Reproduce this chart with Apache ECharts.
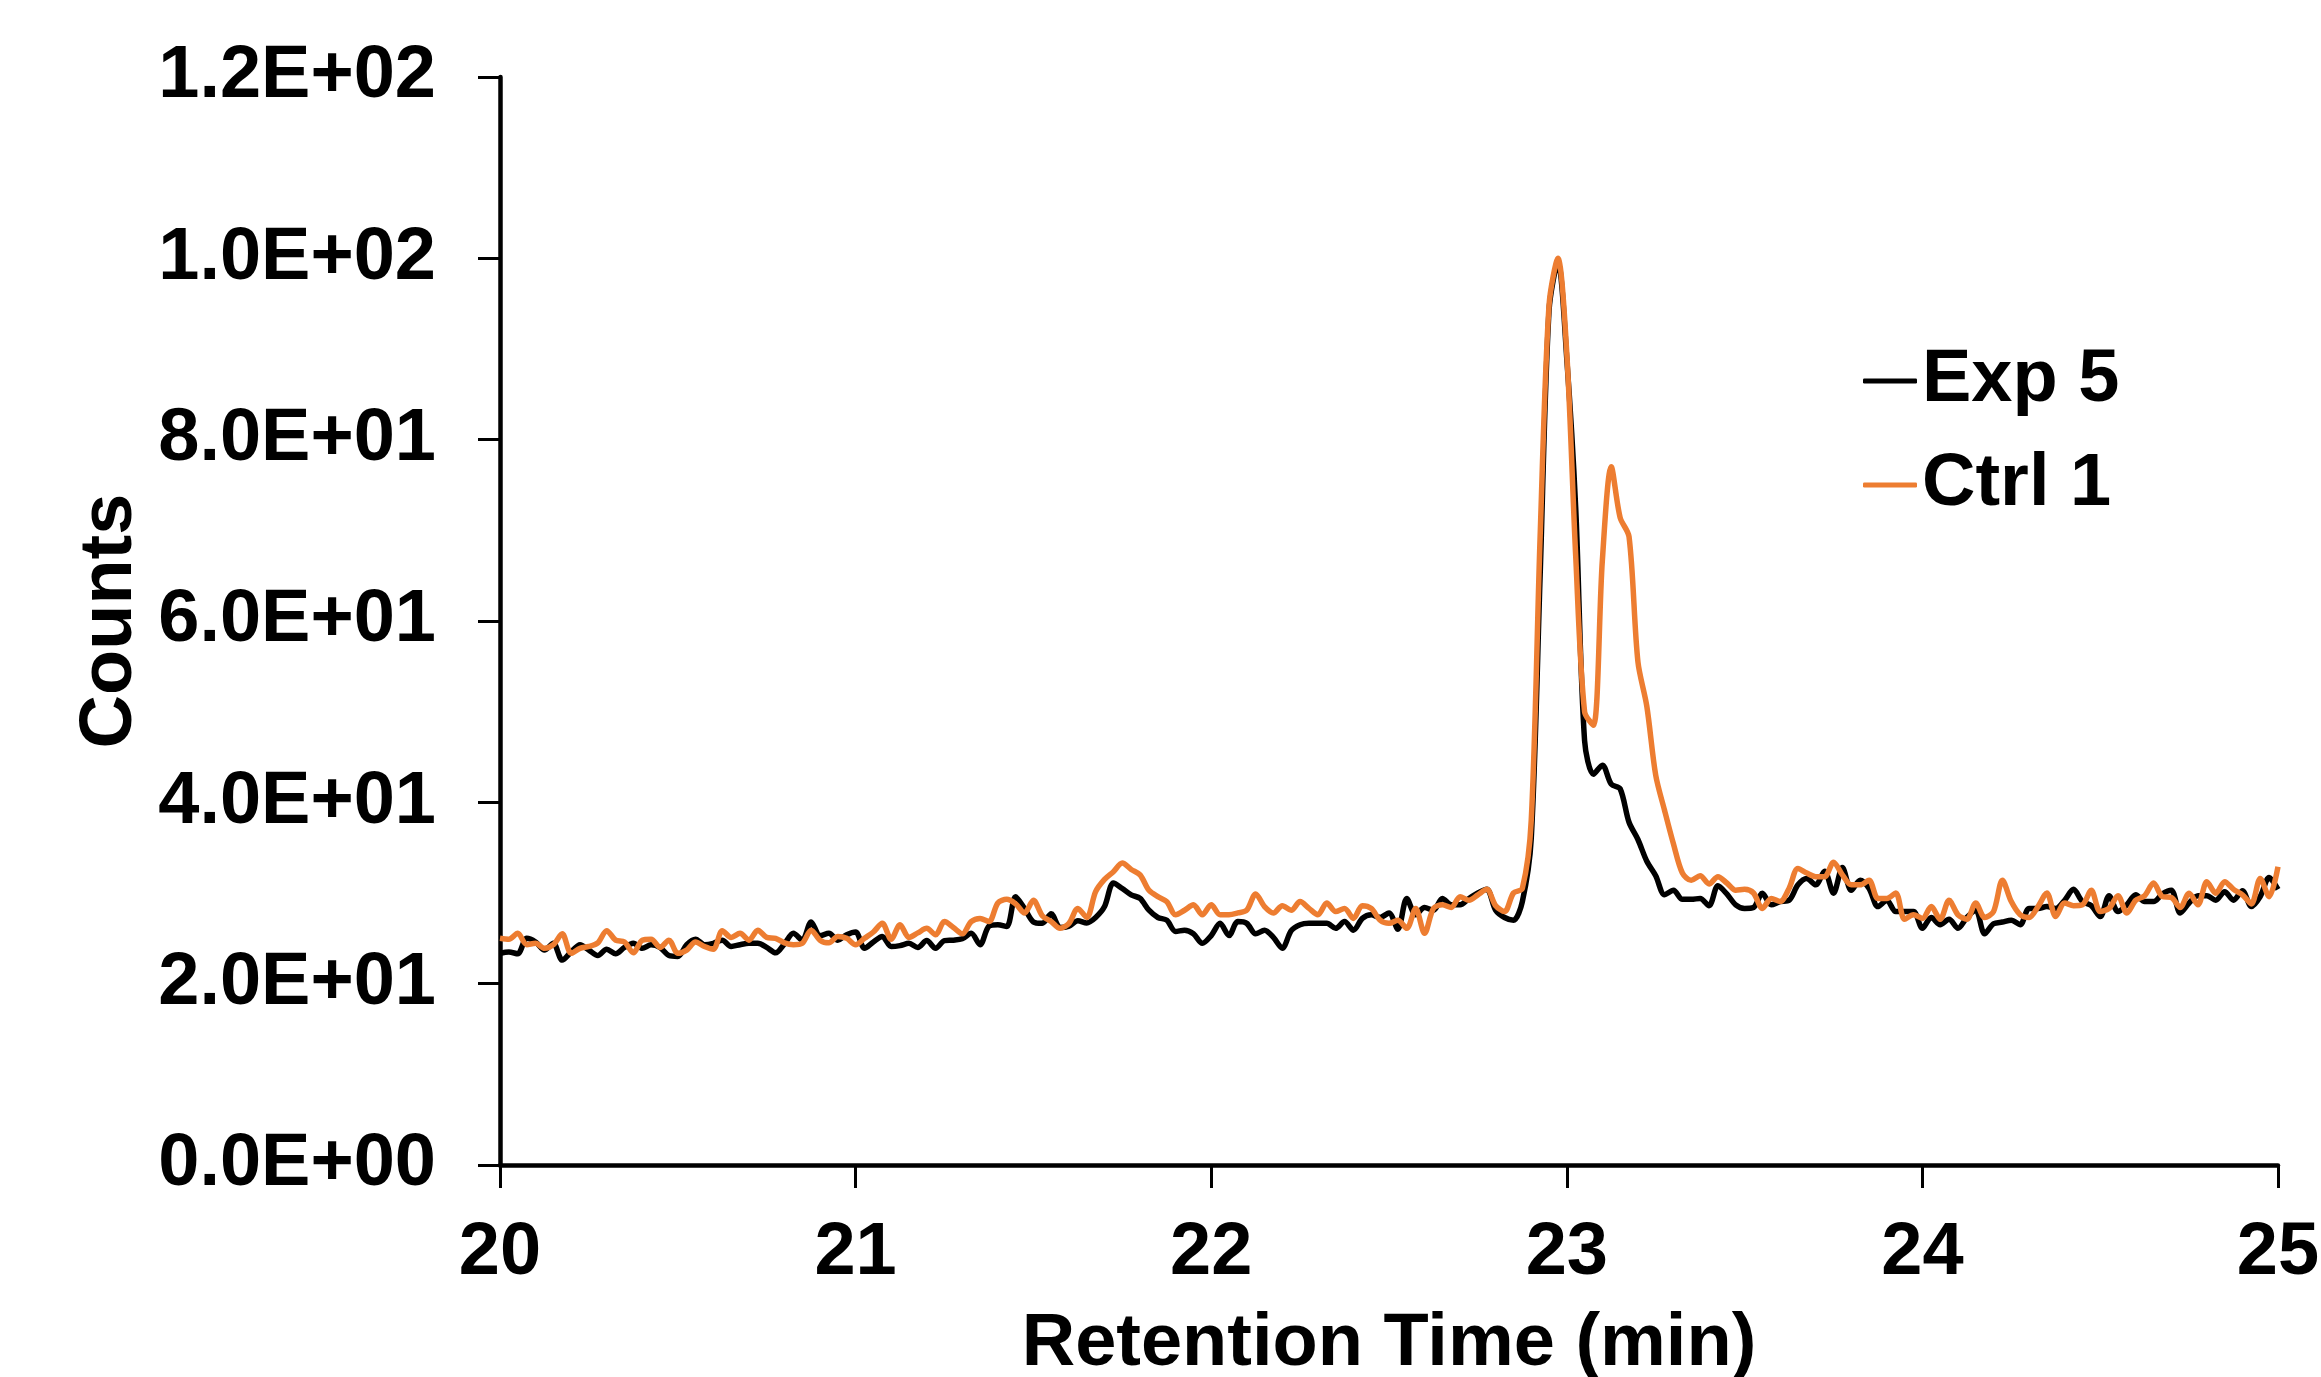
<!DOCTYPE html>
<html>
<head>
<meta charset="utf-8">
<script src="https://cdn.jsdelivr.net/npm/echarts@6/dist/echarts.min.js"></script>
<style>
html,body{margin:0;padding:0;background:#fff;}
#chart{width:2321px;height:1377px;}
</style>
</head>
<body>
<div id="chart"></div>
<script>
// Sampling grid: retention time from 20.000 to 25.000 min, every 0.025 min (201 points)
const tStart = 20, tStep = 0.025, nPts = 201;

const seriesNames = ['Exp 5', 'Ctrl 1'];

const exp5 = [
  23.35,23.5,23.3,25.0,24.6,23.7,24.45,22.6,23.5,24.3,23.7,23.1,23.8,23.3,24.0,24.45,23.9,24.3,24.0,23.1,23.0,24.3,24.9,24.3,24.45,24.8,24.1,24.3,24.45,24.45,24.0,23.4,24.4,25.55,
  24.8,26.8,25.3,25.55,24.8,25.4,25.7,23.9,24.6,25.2,24.1,24.2,24.45,24.0,24.75,23.9,24.75,24.8,24.95,25.55,24.3,26.35,26.5,26.3,29.6,28.3,26.8,26.65,27.7,26.2,26.35,26.95,26.7,27.3,
  28.5,31.1,30.5,29.8,29.4,28.1,27.3,27.0,25.75,25.9,25.5,24.45,25.3,26.65,25.3,26.85,26.65,25.5,25.9,25.1,23.9,25.85,26.5,26.65,26.65,26.65,26.1,26.85,25.9,27.2,27.6,27.3,27.8,
  26.0,29.4,27.6,28.4,28.1,29.4,28.7,28.7,29.4,30.0,30.4,28.1,27.3,27.0,29.05,
  36.0,65.0,94.2,99.6,88.9,72.5,46.8,43.1,44.1,42.0,41.5,37.8,35.9,33.5,31.9,29.8,30.3,29.3,29.3,
  29.4,28.6,30.8,29.9,28.7,28.3,28.4,29.97,28.7,29.05,29.2,30.9,31.6,30.9,32.4,29.97,32.8,30.3,31.4,30.5,28.5,29.2,27.95,27.95,27.95,26.1,27.3,26.5,27.1,26.1,27.3,28.1,25.5,26.6,
  26.8,27.0,26.5,28.3,28.3,28.5,28.3,29.2,30.4,29.05,28.6,27.4,29.7,27.95,28.7,29.8,29.05,29.05,29.9,30.3,27.8,28.9,29.7,29.7,29.2,30.15,29.2,30.26,28.5,29.6,31.7,30.4
];

const ctrl1 = [
  25.0,24.9,25.55,24.3,24.45,23.9,24.3,25.5,23.35,23.9,24.1,24.5,25.85,24.8,24.6,23.4,24.8,24.9,24.0,24.8,23.35,23.7,24.6,24.1,23.8,25.85,25.1,25.55,24.8,25.9,25.1,25.0,24.5,24.3,
  24.45,25.9,24.8,24.5,25.2,25.0,24.3,25.0,25.7,26.65,24.9,26.5,25.1,25.6,26.1,25.4,26.85,26.2,25.5,26.85,27.2,26.85,28.9,29.3,28.8,27.8,29.2,27.5,26.85,26.1,26.65,28.3,27.3,30.15,
  31.5,32.35,33.3,32.6,32.0,30.3,29.6,29.05,27.6,28.1,28.7,27.6,28.7,27.6,27.6,27.8,28.1,29.9,28.5,27.8,28.6,28.1,29.05,28.3,27.6,28.9,27.95,28.3,27.2,28.6,28.3,27.0,26.65,
  27.0,26.1,28.3,25.55,28.3,28.7,28.4,29.6,29.2,29.8,30.4,28.6,27.95,30.0,30.5,
  38.0,69.3,94.8,100.0,89.5,67.2,50.0,48.5,66.7,77.0,71.4,69.3,55.5,50.6,43.0,39.1,35.4,32.2,31.4,
  31.9,31.0,31.8,31.1,30.3,30.4,30.0,28.3,29.4,29.05,30.5,32.7,32.2,31.8,31.8,33.4,32.0,30.9,30.9,31.4,29.4,29.4,30.0,27.1,27.6,27.2,28.5,27.1,29.2,27.6,27.1,28.9,27.3,27.95,
  31.4,29.05,27.6,27.3,28.5,30.0,27.4,28.9,28.6,28.7,30.3,27.95,28.3,29.7,27.8,29.2,29.7,31.1,29.6,29.5,28.4,29.97,28.7,31.25,29.97,31.25,30.4,29.8,28.8,31.6,29.6,32.9
];

const xTickLabels = ['20','21','22','23','24','25'];
const yTickLabels = ['0.0E+00','2.0E+01','4.0E+01','6.0E+01','8.0E+01','1.0E+02','1.2E+02'];

const times = [];
for (let i = 0; i < nPts; i++) times.push(+(tStart + i * tStep).toFixed(3));
const pairs = vals => vals.map((v, i) => [times[i], v]);

const FONT = '"Liberation Sans", Arial, Helvetica, sans-serif';
const FS = 74;
const chart = echarts.init(document.getElementById('chart'), null, {renderer: 'canvas'});
chart.setOption({
  animation: false,
  backgroundColor: '#ffffff',
  grid: {left: 500, right: 43, top: 77, bottom: 212, containLabel: false, outerBoundsMode: 'none'},
  legend: {
    orient: 'vertical',
    left: 1863,
    top: 344,
    padding: 0,
    itemGap: 30,
    itemWidth: 54,
    itemHeight: 5,
    icon: 'roundRect',
    data: seriesNames,
    textStyle: {fontFamily: FONT, fontSize: FS, fontWeight: 'bold', color: '#000', padding: [0, 0, 0, 0]}
  },
  xAxis: {
    type: 'value',
    min: 20, max: 25, interval: 1,
    name: 'Retention Time (min)',
    nameLocation: 'middle',
    nameGap: 143,
    nameTextStyle: {fontFamily: FONT, fontSize: FS, fontWeight: 'bold', color: '#000'},
    axisLine: {show: true, onZero: false, lineStyle: {color: '#000', width: 4.5}},
    axisTick: {show: true, length: 23, lineStyle: {color: '#000', width: 3}},
    axisLabel: {
      margin: 52,
      fontFamily: FONT, fontSize: FS, fontWeight: 'bold', color: '#000',
      formatter: v => xTickLabels[Math.round(v - 20)]
    },
    splitLine: {show: false}
  },
  yAxis: {
    type: 'value',
    min: 0, max: 120, interval: 20,
    name: 'Counts',
    nameLocation: 'middle',
    nameRotate: 90,
    nameGap: 352,
    nameTextStyle: {fontFamily: FONT, fontSize: FS, fontWeight: 'bold', color: '#000'},
    axisLine: {show: true, lineStyle: {color: '#000', width: 4.5}},
    axisTick: {show: true, length: 22, lineStyle: {color: '#000', width: 3}},
    axisLabel: {
      margin: 64,
      fontFamily: FONT, fontSize: FS, fontWeight: 'bold', color: '#000',
      formatter: v => yTickLabels[Math.round(v / 20)]
    },
    splitLine: {show: false}
  },
  series: [
    {name: seriesNames[0], type: 'line', data: pairs(exp5), showSymbol: false, symbol: 'none', smooth: 0.3,
     color: '#000000', lineStyle: {color: '#000000', width: 5.5}},
    {name: seriesNames[1], type: 'line', data: pairs(ctrl1), showSymbol: false, symbol: 'none', smooth: 0.3,
     color: '#ED7D31', lineStyle: {color: '#ED7D31', width: 5.5}}
  ]
});
</script>
</body>
</html>
